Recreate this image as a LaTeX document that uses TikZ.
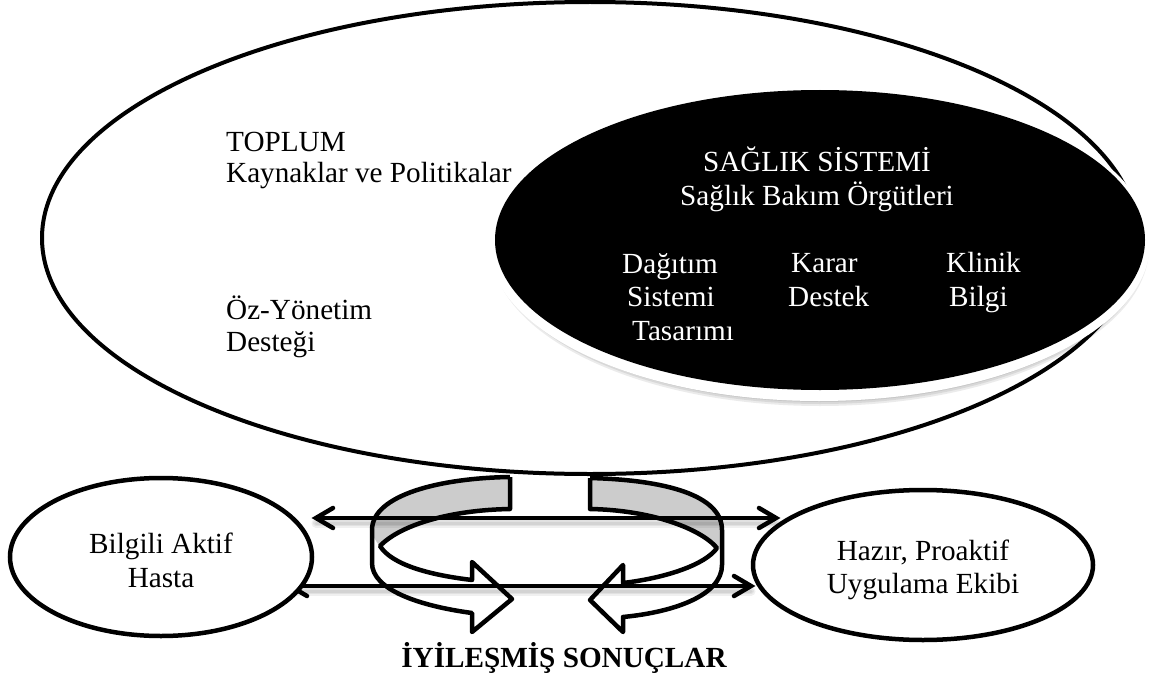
\documentclass[tikz,border=0pt]{standalone}
\usepackage{fontspec}
\setmainfont{Liberation Serif}
\begin{document}
\begin{tikzpicture}[x=1pt,y=-1pt,
  lab/.style={inner sep=0pt,align=left,font=\fontsize{29.2}{31}\selectfont},
  labw/.style={inner sep=0pt,text=white,align=left,font=\fontsize{29.2}{33.5}\selectfont},
  bigell/.style={draw=black,line width=4pt,fill=white},
  smallell/.style={draw=black,line width=4.5pt,fill=white},
  ringpart/.style={draw=black,line width=4.5pt,line join=round},
  bandpart/.style={fill=black!20},
  dbl/.style={draw=black,line width=4.5pt,line cap=butt},
  tipline/.style={draw=black,line width=4.5pt,line cap=round,line join=miter},
  dblsh/.style={draw=black,opacity=.06,line width=#1,line cap=round}
]
\useasboundingbox (0,0) rectangle (1149,677);
\fill[white] (0,0) rectangle (1149,677);
\draw[bigell] (590,238) ellipse [x radius=548,y radius=236];
% ring coordinates
\coordinate (a1) at (510,477); \coordinate (a2) at (510,509);
\coordinate (b1) at (590,478); \coordinate (b2) at (590,509);
% band fills
\path[bandpart] (a1) .. controls (440,478) and (372,495) .. (372,530) .. controls (372,535) and (376,542) .. (380,546) .. controls (400,525) and (450,510) .. (a2) -- cycle;
\path[bandpart] (b1) .. controls (665,480) and (722,495) .. (722,530) -- (722,550) -- (717,548) .. controls (700,528) and (650,510) .. (b2) -- cycle;
% ring
\draw[ringpart] (a1) -- (a2) .. controls (450,510) and (400,525) .. (380,546) .. controls (392,565) and (430,575) .. (472,580) -- (472,562) -- (512,599) -- (472,632) -- (472,613) .. controls (420,606) and (372,590) .. (372,563) -- (372,530) .. controls (372,495) and (440,478) .. (a1);
\draw[ringpart] (b1) -- (b2) .. controls (650,510) and (700,528) .. (717,548) .. controls (705,565) and (665,578) .. (623,583) -- (623,565) -- (590,600) -- (623,632) -- (623,617) .. controls (675,612) and (722,595) .. (722,565) -- (722,530) .. controls (722,495) and (665,480) .. (b1);
% arrows
\coordinate (t1) at (316,518); \coordinate (t2) at (776,518);
\coordinate (u1) at (290,586); \coordinate (u2) at (751,586);
\foreach \w in {3,6,9}{
  \draw[dblsh=\w pt] ([yshift=-5pt]t1) -- ([yshift=-5pt]t2);
  \draw[dblsh=\w pt] ([yshift=-5pt]u1) -- ([yshift=-5pt]u2);
}
\draw[dbl] (t1) -- (t2);
\draw[dbl] (u1) -- (u2);
\draw[tipline] ([shift={(17,-10)}]t1) -- (t1) -- ([shift={(17,10)}]t1);
\draw[tipline] ([shift={(-17,-10)}]t2) -- (t2) -- ([shift={(-17,10)}]t2);
\draw[tipline] ([shift={(17,-10)}]u1) -- (u1) -- ([shift={(17,10)}]u1);
\draw[tipline] ([shift={(-17,-10)}]u2) -- (u2) -- ([shift={(-17,10)}]u2);
% small ellipses
\draw[smallell] (161,557) ellipse [x radius=151,y radius=79];
\draw[smallell] (923,565) ellipse [x radius=170,y radius=75];
% black ellipse with white rim and soft shadow
\foreach \g in {0,2,4}{
  \fill[black,opacity=.08] (820,247) ellipse [x radius=325+\g,y radius=155+\g];
}
\fill[white] (819,243) ellipse [x radius=331,y radius=158];
\fill[black] (820,240) ellipse [x radius=325,y radius=150];
% text
\node[lab,anchor=base west] (toplum) at (226,182) {TOPLUM\\Kaynaklar ve Politikalar};
\node[lab,anchor=base west,font=\fontsize{29.2}{32}\selectfont] (oz) at (226,351) {Öz-Yönetim\\Desteği};
\node[labw,align=center,anchor=base] (saglik) at (817,205) {SAĞLIK SİSTEMİ\\Sağlık Bakım Örgütleri};
\node[labw,anchor=base west] (dag) at (622,340) {Dağıtım\\\hspace*{5pt}Sistemi\\\hspace*{10pt}Tasarımı};
\node[labw,anchor=base west] (karar) at (788,306) {\hspace*{3pt}Karar\\Destek};
\node[labw,anchor=base west] (klinik) at (946,306) {Klinik\\\hspace*{3pt}Bilgi};
\node[lab,align=center,anchor=base,font=\fontsize{29.2}{34}\selectfont] (h) at (161,587) {Bilgili Aktif\\Hasta};
\node[lab,align=center,anchor=base,font=\fontsize{29.2}{33}\selectfont] (r) at (923,593) {Hazır, Proaktif\\Uygulama Ekibi};
\node[lab,anchor=base,font=\fontsize{29.2}{31}\selectfont\bfseries] (son) at (564,667) {İYİLEŞMİŞ SONUÇLAR};
\end{tikzpicture}
\end{document}
